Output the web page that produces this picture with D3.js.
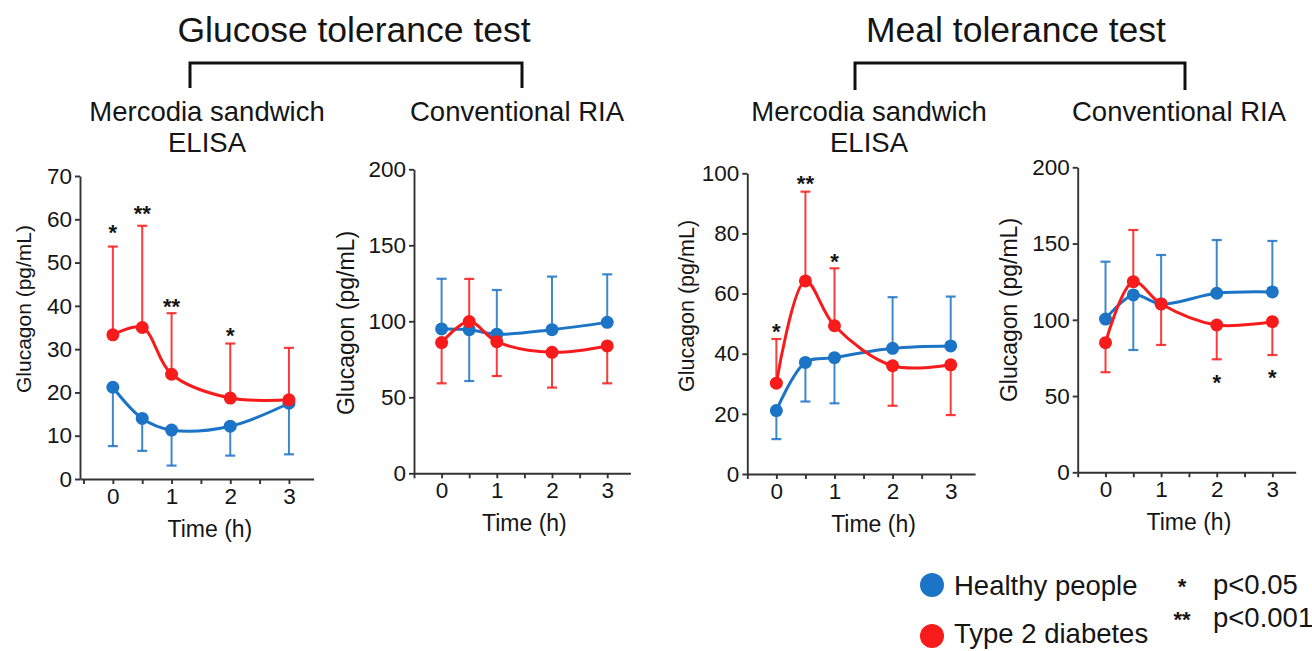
<!DOCTYPE html>
<html>
<head>
<meta charset="utf-8">
<script src="https://cdn.jsdelivr.net/npm/d3@7"></script>
<style>
body { margin: 0; background: #fff; }
svg text { font-family: "Liberation Sans", Arial, Helvetica, sans-serif; fill: #151515; }
</style>
</head>
<body>
<svg id="chart" width="1312" height="651"></svg>
<script>
// sampling times (h) and x tick values
const time = [0, 0.5, 1, 2, 3];
const xTicks = [-0.5, 0, 0.5, 1, 1.5, 2, 2.5, 3];

// Glucose tolerance test - Mercodia sandwich ELISA
const gttElisaHealthy = [21.2, 14.0, 11.3, 12.2, 17.5];
const gttElisaHealthyErr = [7.6, 6.5, 3.1, 5.4, 5.7];
const gttElisaT2d = [33.3, 35.0, 24.2, 18.7, 18.3];
const gttElisaT2dErr = [53.7, 58.5, 38.3, 31.3, 30.3];
const gttElisaStars = [[0, "*", 58], [0.5, "**", 62.3], [1, "**", 41], [2, "*", 34.3]];
const gttElisaTicks = [0, 10, 20, 30, 40, 50, 60, 70];

// Glucose tolerance test - conventional RIA
const gttRiaHealthy = [95.0, 94.5, 91.5, 94.5, 99.3];
const gttRiaHealthyErr = [128.0, 60.7, 120.6, 129.4, 130.9];
const gttRiaT2d = [86.0, 99.8, 86.6, 79.6, 83.8];
const gttRiaT2dErr = [59.2, 127.9, 64.0, 56.4, 59.2];
const gttRiaStars = [];
const gttRiaTicks = [0, 50, 100, 150, 200];

// Meal tolerance test - Mercodia sandwich ELISA
const mttElisaHealthy = [21.1, 37.1, 38.7, 41.8, 42.6];
const mttElisaHealthyErr = [11.6, 24.1, 23.5, 58.8, 59.0];
const mttElisaT2d = [30.2, 64.2, 49.3, 36.0, 36.3];
const mttElisaT2dErr = [44.9, 93.9, 68.4, 22.7, 19.6];
const mttElisaStars = [[0, "*", 49], [0.5, "**", 98], [1, "*", 72.3]];
const mttElisaTicks = [0, 20, 40, 60, 80, 100];

// Meal tolerance test - conventional RIA
const mttRiaHealthy = [100.5, 116.3, 110.4, 117.4, 118.3];
const mttRiaHealthyErr = [138.1, 80.2, 142.5, 152.3, 151.7];
const mttRiaT2d = [85.0, 125.0, 110.4, 96.6, 98.8];
const mttRiaT2dErr = [65.6, 158.9, 83.5, 74.1, 76.9];
const mttRiaStars = [[2, "*", 61.6], [3, "*", 65.4]];
const mttRiaTicks = [0, 50, 100, 150, 200];

const blue = "#1c74c6",
    red = "#f71b1b";

const svg = d3.select("#chart");

// panel layout
const panels = [
    { left: 80, width: 233.6, top: 176, bottom: 479, xMin: -0.56, yMax: 70, yTicks: gttElisaTicks,
      healthy: gttElisaHealthy, healthyErr: gttElisaHealthyErr, t2d: gttElisaT2d, t2dErr: gttElisaT2dErr,
      stars: gttElisaStars, labelX: 24, labelY: 309, labelSize: 21, xLabelDx: 9 },
    { left: 414, width: 216.4, top: 169.3, bottom: 473.3, xMin: -0.5, yMax: 200, yTicks: gttRiaTicks,
      healthy: gttRiaHealthy, healthyErr: gttRiaHealthyErr, t2d: gttRiaT2d, t2dErr: gttRiaT2dErr,
      stars: gttRiaStars, labelX: 346, labelY: 323, labelSize: 23, xLabelDx: 0 },
    { left: 747.3, width: 227.8, top: 173.3, bottom: 474, xMin: -0.5, yMax: 100, yTicks: mttElisaTicks,
      healthy: mttElisaHealthy, healthyErr: mttElisaHealthyErr, t2d: mttElisaT2d, t2dErr: mttElisaT2dErr,
      stars: mttElisaStars, labelX: 686, labelY: 306, labelSize: 21.5, xLabelDx: 10 },
    { left: 1077.7, width: 218, top: 167.3, bottom: 472.3, xMin: -0.5, yMax: 200, yTicks: mttRiaTicks,
      healthy: mttRiaHealthy, healthyErr: mttRiaHealthyErr, t2d: mttRiaT2d, t2dErr: mttRiaT2dErr,
      stars: mttRiaStars, labelX: 1009, labelY: 310, labelSize: 23, xLabelDx: 0 }
];

panels.forEach(p => {
    const x = d3.scaleLinear().domain([p.xMin, 3.42]).range([p.left, p.left + p.width]);
    const y = d3.scaleLinear().domain([0, p.yMax]).range([p.bottom, p.top]);
    const g = svg.append("g");

    // axes
    const yAxis = g.append("g")
        .attr("transform", `translate(${p.left},0)`)
        .call(d3.axisLeft(y).tickValues(p.yTicks).tickSize(5).tickSizeOuter(0).tickPadding(3));
    const xAxis = g.append("g")
        .attr("transform", `translate(0,${p.bottom})`)
        .call(d3.axisBottom(x).tickValues(xTicks).tickSize(5).tickSizeOuter(0).tickPadding(4)
            .tickFormat(d => Number.isInteger(d) ? d : ""));
    [xAxis, yAxis].forEach(a => {
        a.selectAll("path, line").attr("stroke", "#333").attr("stroke-width", 1.9);
        a.selectAll("text").attr("font-size", 22.5).attr("fill", "#151515")
            .style("font-family", '"Liberation Sans", Arial, sans-serif');
    });

    g.append("text")
        .attr("transform", `translate(${p.labelX},${p.labelY}) rotate(-90)`)
        .attr("text-anchor", "middle")
        .attr("dy", "0.35em")
        .attr("font-size", p.labelSize)
        .text("Glucagon (pg/mL)");

    g.append("text")
        .attr("x", x(1.5) + p.xLabelDx)
        .attr("y", p.bottom + 58)
        .attr("text-anchor", "middle")
        .attr("font-size", 23)
        .text("Time (h)");

    const line = d3.line()
        .x((d, i) => x(time[i]))
        .y(d => y(d))
        .curve(d3.curveCatmullRom.alpha(0.5));

    function drawSeries(vals, errs, colour) {
        const s = g.append("g");
        // one-sided error bars
        s.selectAll("line.err")
            .data(vals)
            .join("line")
            .attr("class", "err")
            .attr("x1", (d, i) => x(time[i]))
            .attr("x2", (d, i) => x(time[i]))
            .attr("y1", d => y(d))
            .attr("y2", (d, i) => y(errs[i]))
            .attr("stroke", colour)
            .attr("stroke-opacity", 0.85)
            .attr("stroke-width", 2);
        s.selectAll("line.cap")
            .data(errs)
            .join("line")
            .attr("class", "cap")
            .attr("x1", (d, i) => x(time[i]) - 5)
            .attr("x2", (d, i) => x(time[i]) + 5)
            .attr("y1", d => y(d))
            .attr("y2", d => y(d))
            .attr("stroke", colour)
            .attr("stroke-opacity", 0.85)
            .attr("stroke-width", 2.2);
        s.append("path")
            .datum(vals)
            .attr("d", line)
            .attr("fill", "none")
            .attr("stroke", colour)
            .attr("stroke-width", 3);
        s.selectAll("circle")
            .data(vals)
            .join("circle")
            .attr("cx", (d, i) => x(time[i]))
            .attr("cy", d => y(d))
            .attr("r", 6.5)
            .attr("fill", colour);
    }

    drawSeries(p.healthy, p.healthyErr, blue);
    drawSeries(p.t2d, p.t2dErr, red);

    // significance marks
    g.selectAll("text.star")
        .data(p.stars)
        .join("text")
        .attr("class", "star")
        .attr("x", d => x(d[0]))
        .attr("y", d => y(d[2]) + 12)
        .attr("text-anchor", "middle")
        .attr("font-size", 22)
        .attr("font-weight", "bold")
        .text(d => d[1]);
});

// titles and brackets
const groups = [
    { title: "Glucose tolerance test", cx: 354, x1: 190, x2: 522, legBottom: 88 },
    { title: "Meal tolerance test", cx: 1016, x1: 855, x2: 1185, legBottom: 90 }
];
groups.forEach(gr => {
    svg.append("text")
        .attr("x", gr.cx).attr("y", 42)
        .attr("text-anchor", "middle")
        .attr("font-size", 35.5)
        .text(gr.title);
    svg.append("path")
        .attr("d", `M${gr.x1},${gr.legBottom}V63H${gr.x2}V${gr.legBottom}`)
        .attr("fill", "none")
        .attr("stroke", "#111")
        .attr("stroke-width", 3);
});

const subtitles = [
    { lines: ["Mercodia sandwich", "ELISA"], cx: 207 },
    { lines: ["Conventional RIA"], cx: 517 },
    { lines: ["Mercodia sandwich", "ELISA"], cx: 869 },
    { lines: ["Conventional RIA"], cx: 1179 }
];
subtitles.forEach(st => {
    st.lines.forEach((l, i) => {
        svg.append("text")
            .attr("x", st.cx).attr("y", 121 + i * 31)
            .attr("text-anchor", "middle")
            .attr("font-size", 27.5)
            .text(l);
    });
});

// legend
const legendItems = [["Healthy people", blue], ["Type 2 diabetes", red]];
const legend = svg.append("g").attr("transform", "translate(932,0)");
legendItems.forEach((d, i) => {
    legend.append("circle").attr("cx", 0).attr("cy", 585 + i * 51).attr("r", 12).attr("fill", d[1]);
    legend.append("text").attr("x", 22).attr("y", 595 + i * 48).attr("font-size", 27.5).text(d[0]);
});
const pItems = [["*", "p<0.05"], ["**", "p<0.001"]];
pItems.forEach((d, i) => {
    legend.append("text").attr("x", 250).attr("y", 594 + i * 33)
        .attr("text-anchor", "middle").attr("font-size", 22).attr("font-weight", "bold").text(d[0]);
    legend.append("text").attr("x", 281).attr("y", 594 + i * 33).attr("font-size", 27.5).text(d[1]);
});
</script>
</body>
</html>
